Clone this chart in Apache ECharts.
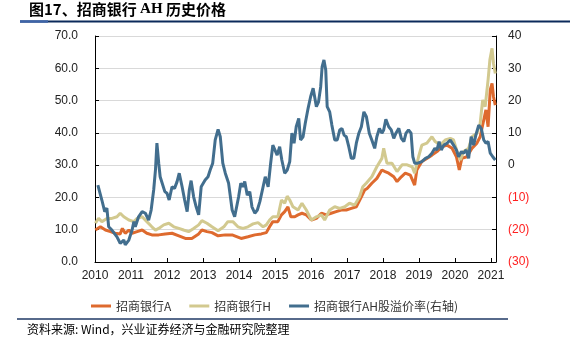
<!DOCTYPE html>
<html><head><meta charset="utf-8">
<script src="https://cdn.jsdelivr.net/npm/echarts@6/dist/echarts.min.js"></script>
<style>html,body{margin:0;padding:0;background:#fff}#c{width:584px;height:355px}</style>
</head><body><div id="c"></div>
<script>
// ---- data (decimal year, value) ----
const seriesNames = ['招商银行A', '招商银行H', '招商银行AH股溢价率(右轴)'];
const yearTicks = [2010, 2011, 2012, 2013, 2014, 2015, 2016, 2017, 2018, 2019, 2020, 2021];
const priceA = [
[2010.01,9.9],[2010.15,10.9],[2010.29,9.9],[2010.43,9.4],[2010.56,8.9],[2010.70,8.7],[2010.76,10.4],[2010.84,8.9],[2010.94,9.9],[2011.03,8.9],[2011.17,9.4],[2011.31,9.9],[2011.44,8.9],[2011.58,8.4],[2011.77,8.4],[2011.95,8.7],[2012.14,8.9],[2012.33,8.1],[2012.51,7.3],[2012.69,7.3],[2012.88,8.7],[2012.97,9.9],[2013.11,9.4],[2013.25,9.1],[2013.42,8.1],[2013.62,8.4],[2013.81,8.4],[2013.88,8.1],[2014.06,7.3],[2014.25,7.8],[2014.44,8.4],[2014.62,8.7],[2014.76,9.1],[2014.85,10.9],[2014.94,12.5],[2015.08,12.5],[2015.18,14.6],[2015.27,15.6],[2015.36,17.1],[2015.44,14],[2015.55,14],[2015.64,14.6],[2015.75,15.1],[2015.87,14.6],[2016.01,13],[2016.15,13.5],[2016.29,15.1],[2016.43,14.6],[2016.56,15.1],[2016.70,15.6],[2016.84,16.1],[2016.98,16.1],[2017.12,16.6],[2017.26,17.1],[2017.40,20.2],[2017.49,22.3],[2017.56,22.8],[2017.69,24.4],[2017.83,25.9],[2017.97,28.5],[2018.06,28],[2018.16,27.5],[2018.30,26.4],[2018.39,24.9],[2018.51,26.4],[2018.62,27.5],[2018.76,26.9],[2018.88,23.8],[2018.94,28.5],[2019.08,31.1],[2019.22,32.1],[2019.36,33.1],[2019.50,34.2],[2019.64,35.7],[2019.78,36.2],[2019.92,35.2],[2020.04,32.6],[2020.12,28.5],[2020.19,32.1],[2020.33,32.6],[2020.47,35.2],[2020.61,36.8],[2020.70,38.8],[2020.80,44],[2020.86,47.1],[2020.92,41.9],[2020.98,53.3],[2021.03,55.3],[2021.07,51.2],[2021.12,48.6]
];
const priceH = [
[2010.01,12],[2010.10,13.5],[2010.19,12.5],[2010.33,13.5],[2010.47,13.5],[2010.61,14],[2010.70,15.1],[2010.80,14],[2010.94,13],[2011.08,12.5],[2011.17,13.5],[2011.31,14],[2011.44,12.5],[2011.58,10.9],[2011.68,9.9],[2011.77,10.4],[2011.91,11.5],[2012.05,12],[2012.19,10.9],[2012.33,10.4],[2012.46,9.9],[2012.60,9.4],[2012.74,10.4],[2012.88,11.5],[2012.97,12.8],[2013.11,12],[2013.25,10.9],[2013.42,9.7],[2013.58,10.9],[2013.69,12.5],[2013.83,12.5],[2013.97,10.9],[2014.11,10.4],[2014.25,10.9],[2014.39,11.8],[2014.53,12.2],[2014.67,10.9],[2014.76,11.5],[2014.85,13],[2014.94,14],[2015.08,14],[2015.18,19.2],[2015.27,18.2],[2015.34,20.4],[2015.41,19.2],[2015.50,17.1],[2015.64,16.1],[2015.75,18.2],[2015.87,16.1],[2016.01,13],[2016.15,14],[2016.29,14.6],[2016.38,13],[2016.52,16.1],[2016.66,17.1],[2016.80,16.6],[2016.94,17.1],[2017.07,18.2],[2017.21,17.6],[2017.35,20.2],[2017.44,23.3],[2017.54,24.5],[2017.69,26.4],[2017.83,29.5],[2017.97,32.1],[2018.02,35.2],[2018.11,30.6],[2018.25,30.6],[2018.39,28],[2018.53,30.1],[2018.67,30.1],[2018.81,29.5],[2018.88,27.5],[2018.99,32.6],[2019.08,36.2],[2019.22,36.8],[2019.36,38.8],[2019.45,37.3],[2019.59,36.2],[2019.73,37.8],[2019.87,38.3],[2019.96,37.8],[2020.06,34.2],[2020.15,31.6],[2020.24,34.2],[2020.38,35.2],[2020.47,38.8],[2020.61,39.9],[2020.70,42.9],[2020.77,50.2],[2020.84,48.1],[2020.92,56.4],[2020.97,62.6],[2021.03,66.2],[2021.07,61.5],[2021.12,58.4]
];
const premium = [
[2010.08,-6.2],[2010.19,-10.8],[2010.27,-14.4],[2010.33,-13.3],[2010.38,-19.1],[2010.47,-20.1],[2010.61,-22.2],[2010.70,-24.2],[2010.80,-23.2],[2010.84,-24.7],[2010.94,-23.2],[2011.03,-20.1],[2011.08,-17.5],[2011.12,-19.1],[2011.21,-16],[2011.31,-14.4],[2011.40,-14.9],[2011.49,-17],[2011.56,-13.9],[2011.63,-7.7],[2011.68,-1.5],[2011.72,6.8],[2011.77,0.6],[2011.81,-3.6],[2011.86,-4.1],[2011.94,-8.2],[2012.00,-8.7],[2012.06,-10.8],[2012.14,-6.7],[2012.21,-7.2],[2012.28,-5.1],[2012.34,-2.5],[2012.42,-6.7],[2012.49,-10.8],[2012.56,-14.4],[2012.62,-7.7],[2012.67,-4.8],[2012.74,-9.8],[2012.81,-12.9],[2012.88,-15.4],[2012.95,-6.7],[2013.06,-4.6],[2013.14,-3.6],[2013.20,-1.5],[2013.27,0.6],[2013.34,7.8],[2013.42,11.1],[2013.48,8.8],[2013.55,0.6],[2013.62,-2.5],[2013.71,-5.5],[2013.81,-13.9],[2013.88,-16],[2013.92,-16.5],[2013.99,-9.8],[2014.05,-5.6],[2014.11,-6.7],[2014.16,-5.1],[2014.23,-9.3],[2014.30,-8.2],[2014.36,-12.9],[2014.44,-14.9],[2014.51,-13.9],[2014.58,-11.3],[2014.67,-6.7],[2014.73,-3.6],[2014.81,-6.7],[2014.88,0.6],[2014.94,6.2],[2014.99,6.8],[2015.06,3.1],[2015.13,5.7],[2015.19,1.6],[2015.27,-2.5],[2015.34,-1.5],[2015.41,1.1],[2015.47,9.9],[2015.53,6.8],[2015.59,11.9],[2015.66,14.5],[2015.71,7.8],[2015.78,8.8],[2015.84,12.9],[2015.92,17.6],[2015.99,21.2],[2016.06,23.8],[2016.15,18.1],[2016.21,19.6],[2016.27,24.3],[2016.31,30.5],[2016.36,32.6],[2016.41,29.5],[2016.45,18.1],[2016.52,16.5],[2016.58,12.4],[2016.66,7.8],[2016.73,7.8],[2016.80,10.9],[2016.86,11.4],[2016.92,9.3],[2016.98,8.8],[2017.05,5.7],[2017.12,2.1],[2017.19,2.1],[2017.26,6.8],[2017.33,9.9],[2017.40,11.9],[2017.47,16.5],[2017.54,15],[2017.62,9.9],[2017.69,7.8],[2017.77,5.2],[2017.83,8.8],[2017.90,11.4],[2017.97,9.9],[2018.02,10.9],[2018.08,14.2],[2018.16,11.9],[2018.23,10.9],[2018.30,8.3],[2018.36,9.9],[2018.44,11.4],[2018.51,8.3],[2018.58,7.3],[2018.64,9.9],[2018.71,10.9],[2018.78,9.9],[2018.83,2.6],[2018.88,0.6],[2018.97,0.6],[2019.08,1.1],[2019.18,2.1],[2019.27,2.6],[2019.36,3.7],[2019.44,5.2],[2019.50,4.7],[2019.56,7.3],[2019.62,4.7],[2019.69,6.2],[2019.78,6.8],[2019.87,7.8],[2019.96,6.2],[2020.04,4.7],[2020.10,2.6],[2020.18,4.2],[2020.24,3.7],[2020.31,4.7],[2020.38,2.1],[2020.45,8.8],[2020.52,6.2],[2020.58,9.3],[2020.66,12.4],[2020.73,11.4],[2020.80,7.8],[2020.86,6.8],[2020.92,7.3],[2020.98,3.7],[2021.05,2.6],[2021.12,1.6]
];
const titleText = '图17、招商银行 AH 历史价格';
const sourceText = '资料来源: Wind，兴业证券经济与金融研究院整理';

const latin = '"Liberation Sans", Arial, sans-serif';
const cjk = '"Noto Sans CJK SC", sans-serif';
const chart = echarts.init(document.getElementById('c'), null, {renderer: 'canvas'});
chart.setOption({
  animation: false,
  backgroundColor: '#fff',
  grid: {left: 95, right: 88, top: 36, bottom: 93},
  legend: {
    data: seriesNames, left: 86, top: 295, itemWidth: 20, itemHeight: 3, itemGap: 18,
    icon: 'rect', textStyle: {fontSize: 12, color: '#333', fontFamily: cjk}
  },
  xAxis: {
    type: 'value', min: yearTicks[0], max: 2021.14, interval: 1,
    axisLine: {lineStyle: {color: '#000', width: 1}},
    axisTick: {inside: true, length: 4, lineStyle: {color: '#000'}},
    axisLabel: {color: '#222', fontSize: 12, fontFamily: latin, margin: 8,
      formatter: v => yearTicks.includes(v) ? String(v) : ''},
    splitLine: {show: false}
  },
  yAxis: [{
    type: 'value', min: 0, max: 70, interval: 10, position: 'left',
    axisLine: {show: true, lineStyle: {color: '#000'}},
    axisTick: {show: true, inside: true, length: 4, lineStyle: {color: '#000'}},
    axisLabel: {color: '#222', fontSize: 12, fontFamily: latin, margin: 17, formatter: v => v.toFixed(1)},
    splitLine: {lineStyle: {color: '#D9D9D9', width: 1}}
  }, {
    type: 'value', min: -30, max: 40, interval: 10, position: 'right',
    axisLine: {show: true, lineStyle: {color: '#000'}},
    axisTick: {show: true, inside: true, length: 4, lineStyle: {color: '#000'}},
    axisLabel: {color: '#222', fontSize: 12, fontFamily: latin, margin: 12,
      formatter: v => v < 0 ? '{neg|(' + (-v) + ')}' : String(v),
      rich: {neg: {color: '#FF2020', fontSize: 12, fontFamily: latin}}},
    splitLine: {show: false}
  }],
  series: [
    {name: seriesNames[0], type: 'line', data: priceA, yAxisIndex: 0, showSymbol: false, symbol: 'none',
      lineStyle: {color: '#DE6A2E', width: 3}, itemStyle: {color: '#DE6A2E'}},
    {name: seriesNames[1], type: 'line', data: priceH, yAxisIndex: 0, showSymbol: false, symbol: 'none',
      lineStyle: {color: '#D2C98F', width: 3}, itemStyle: {color: '#D2C98F'}},
    {name: seriesNames[2], type: 'line', data: premium, yAxisIndex: 1, showSymbol: false, symbol: 'none',
      lineStyle: {color: '#426E8E', width: 3}, itemStyle: {color: '#426E8E'}}
  ],
  graphic: [
    {type: 'text', left: 29, top: 2, style: {
      text: '{a|图17、招商银行 }{b|AH}{a| 历史价格}',
      rich: {a: {font: 'bold 15px "Noto Sans CJK SC"', fill: '#000'}, b: {font: 'bold 15px "Liberation Serif"', fill: '#000'}}
    }},
    {type: 'line', shape: {x1: 20, y1: 21.5, x2: 570, y2: 21.5}, style: {stroke: '#0B2A5B', lineWidth: 2}},
    {type: 'line', shape: {x1: 20, y1: 21.5, x2: 48, y2: 21.5}, style: {stroke: '#3E64A8', lineWidth: 2.5}},
    {type: 'line', shape: {x1: 17, y1: 319, x2: 508, y2: 319}, style: {stroke: '#1F3864', lineWidth: 1.5}},
    {type: 'text', left: 27, top: 323, style: {text: sourceText, font: '12px "Noto Sans CJK SC"', fill: '#000'}}
  ]
});
</script></body></html>
